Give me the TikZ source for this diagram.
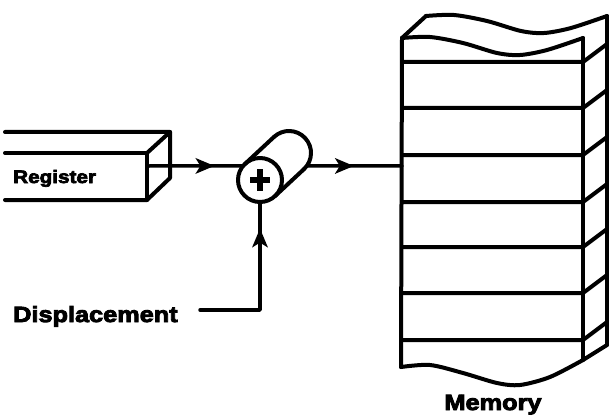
\documentclass[tikz,border=0pt]{standalone}
\usepackage{fontspec}
\newfontfamily\heavy[FakeStretch=1.15,BoldFeatures={FakeBold=4}]{Liberation Sans}
\usetikzlibrary{decorations.markings,calc}
\begin{document}
\begin{tikzpicture}[x=1pt,y=1pt,yscale=-1,
  ink/.style={line width=4pt, line cap=round, line join=round},
  wire/.style={line width=3.5pt, line cap=round, line join=round},
  midarrow/.style={postaction={decorate}, decoration={markings,
      mark=at position #1 with {\fill (7,0) -- (-12,-8) -- (-7,0) -- (-12,8) -- cycle;}}},
  lbl/.style={inner sep=0pt, font=\heavy\bfseries\fontsize{22}{24}\selectfont},
  smalllbl/.style={inner sep=0pt, font=\heavy\bfseries\fontsize{18}{20}\selectfont}
]
\useasboundingbox (0,0) rectangle (610,417);

% register block, open towards the left
\draw[ink] (5,132) -- (170,132) -- (170,178) -- (147,200) -- (5,200);
\draw[ink] (5,153) -- (147,153) -- (147,200);
\draw[ink] (147,153) -- (170,132);
\node[smalllbl, anchor=base west] (reglabel) at (13,183) {Register};
\coordinate (regport) at (149,166);

% adder drawn as a short cylinder
\node[circle, draw, ink, fill=white, minimum size=44pt, inner sep=0pt, outer sep=0pt] (adder) at (260,180) {};
\node[circle, minimum size=44pt, inner sep=0pt, outer sep=0pt] (adderback) at (289,153) {};
\draw[ink] (adderback.133) arc[start angle=-133, end angle=47, radius=22];
\draw[ink] (adder.133) -- (adderback.133);
\draw[ink] (adder.-47) -- (adderback.-47);
\draw[line width=6pt] ($(adder.center)+(-10,0)$) -- ($(adder.center)+(10,0)$);
\draw[line width=6pt] ($(adder.center)+(0,-11)$) -- ($(adder.center)+(0,11)$);

% memory stack
\draw[ink] plot[smooth] coordinates {(402,38) (430,37) (463,43) (497,53) (520,55) (547,50) (583,38)};
\draw[ink, shift={(24,-22)}] plot[smooth] coordinates {(402,38) (430,37) (463,43) (497,53) (520,55) (547,50) (583,38)};
\draw[ink] (402,38) -- (426,16);
\draw[ink] (607,16) -- (607,345);
\draw[ink] (402,38) -- (401,367);
\draw[ink] (583,38) -- (583,360);
\draw[ink] plot[smooth] coordinates {(401,367) (430,365) (463,373) (497,383) (520,385) (550,377) (583,360)};
\draw[ink] (583,360) -- (607,345);
\foreach \yy in {62,108,155,202,247,293,340} {
  \draw[ink] (402,\yy) -- (583,\yy) -- (607,\yy-18);
}
\node[lbl, anchor=base] (memlabel) at (493,410) {Memory};
\coordinate (memin) at (402,166);

% displacement input
\node[lbl, anchor=base west] (disp) at (13,322) {Displacement};
\coordinate (dispend) at (200,310);

% connectors
\draw[wire, midarrow=0.62] (regport) -- (adder.140);
\draw[wire, midarrow=0.42] (adderback.-36) -- (memin);
\draw[wire, midarrow=0.80] (dispend) -| (adder.south);
\end{tikzpicture}
\end{document}
